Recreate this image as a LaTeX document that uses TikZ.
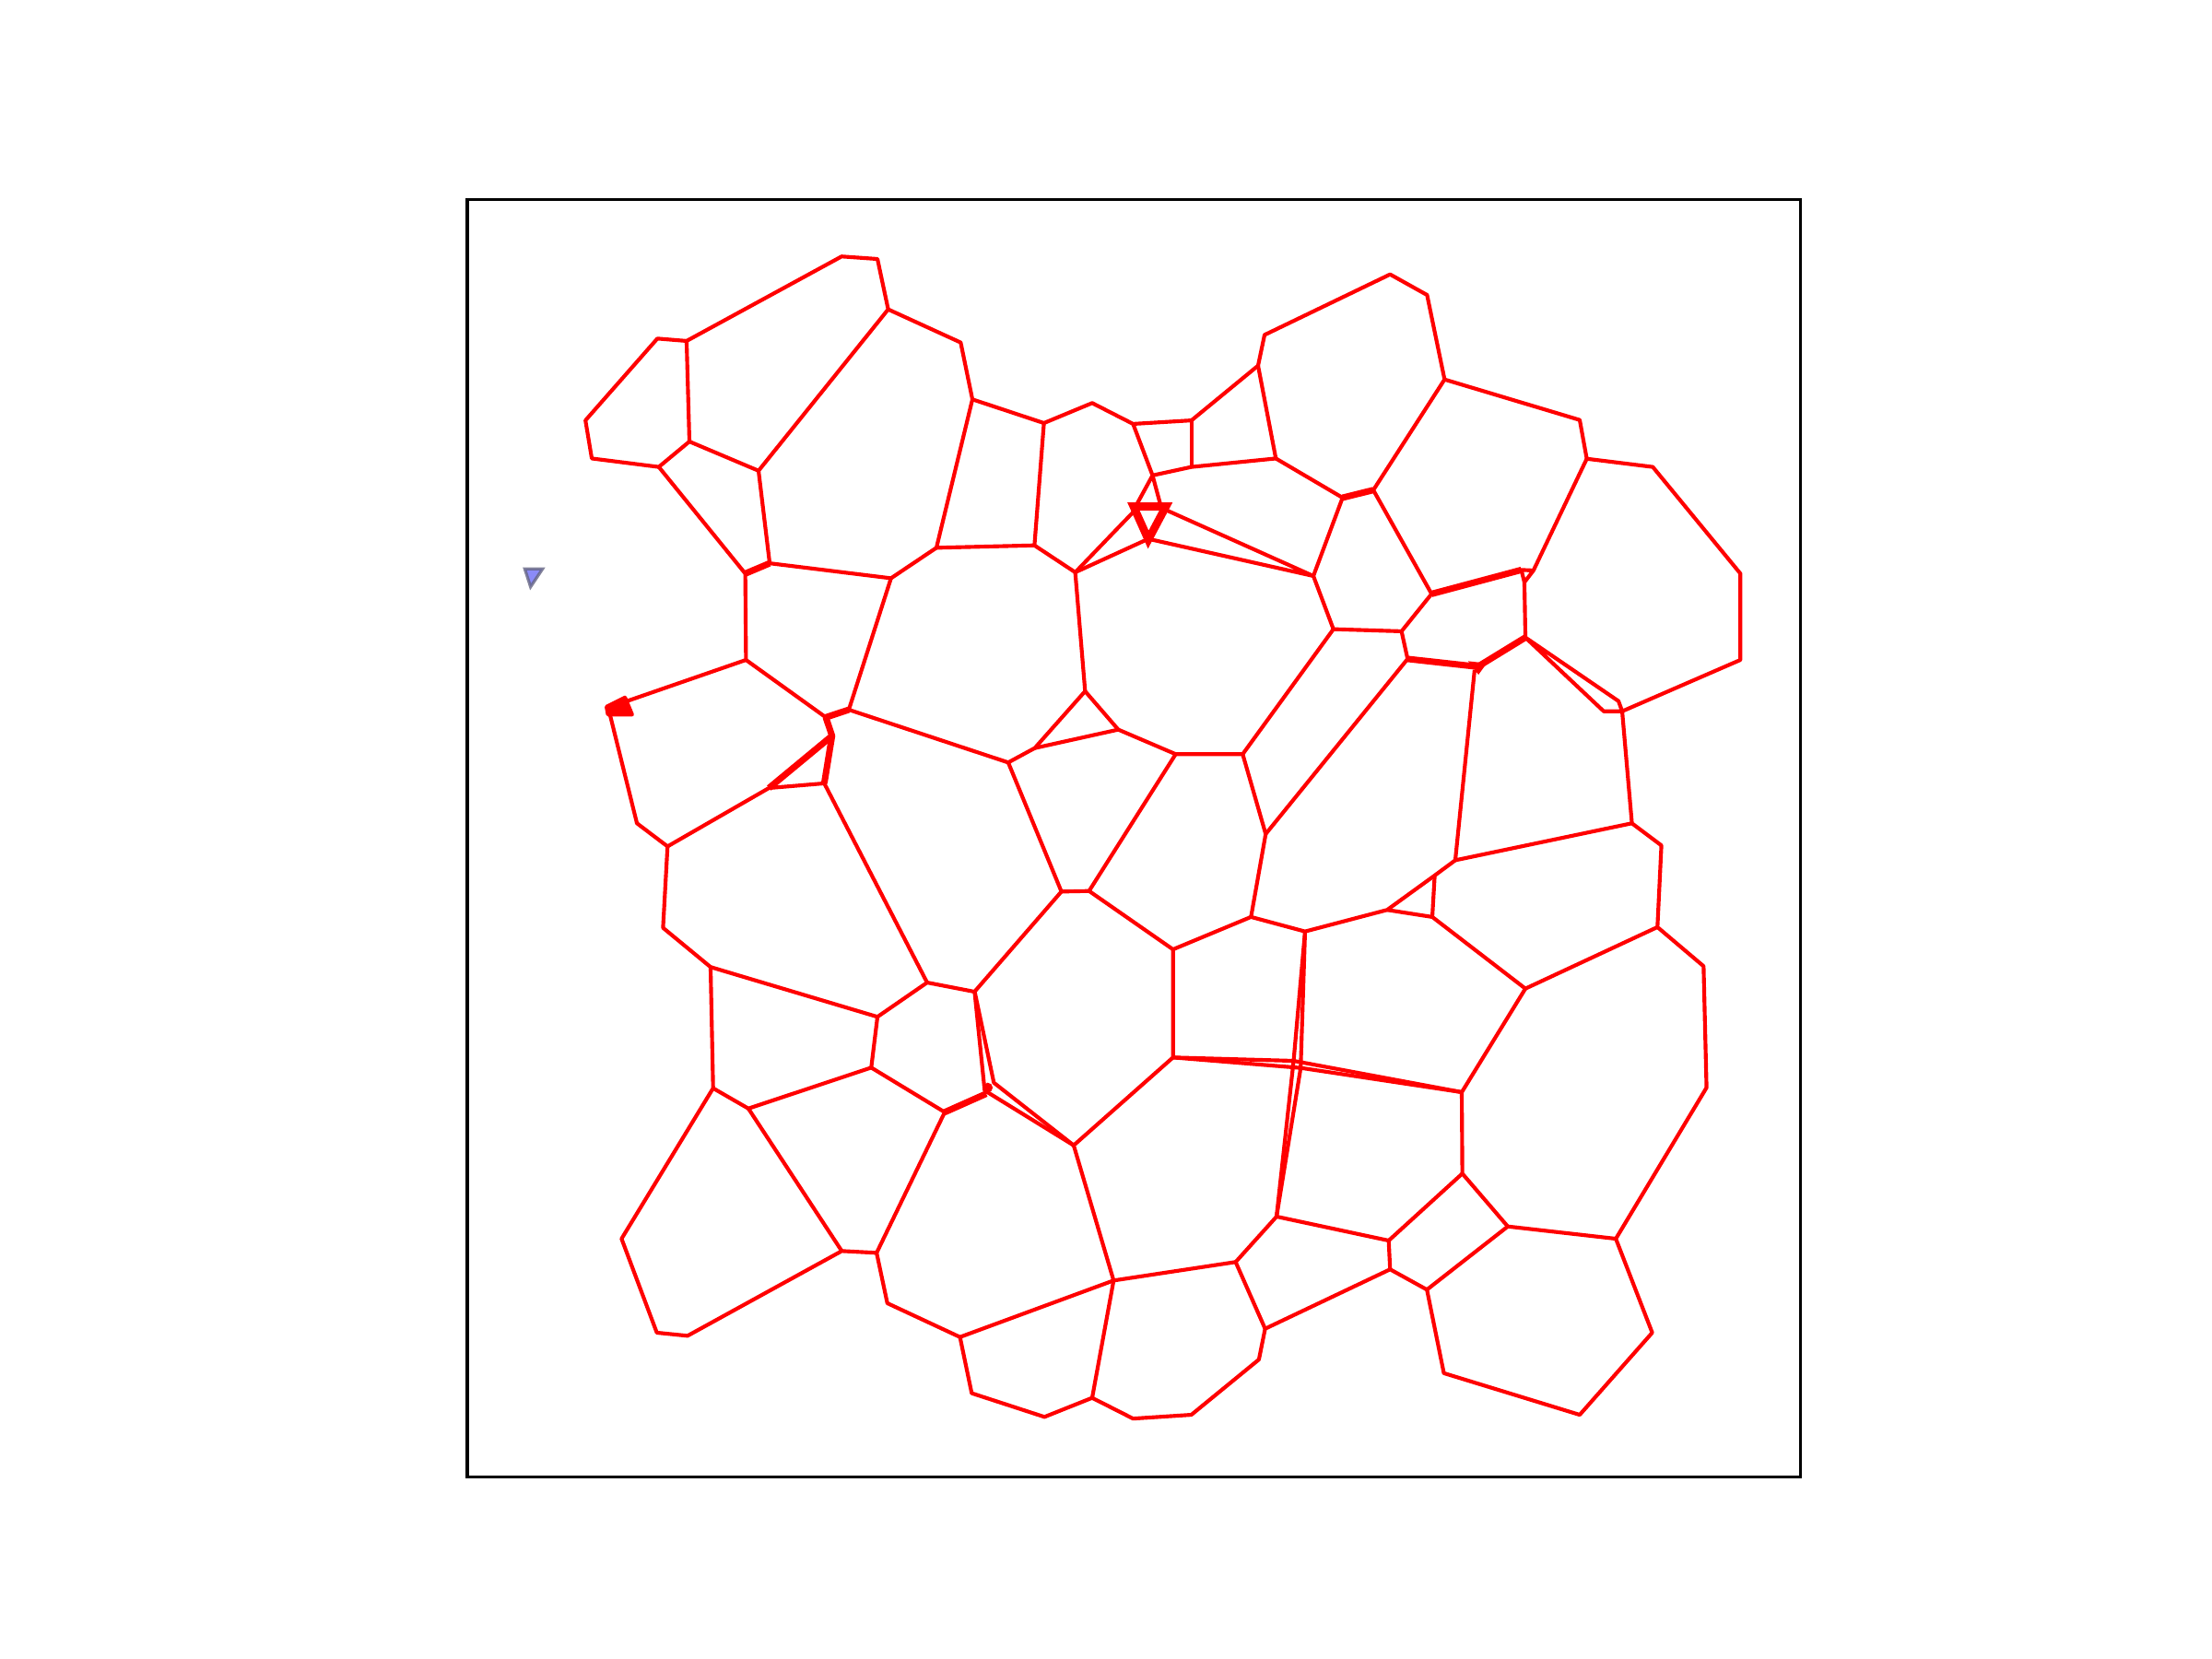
\documentclass[tikz,border=0pt]{standalone}
\usepackage{tikz}
\tikzset{
 cell/.style={red, line width=0.77pt, line join=round},
 seam/.style={red, line width=1.3pt, line join=round},
}
\begin{document}
\begin{tikzpicture}[x=0.01cm, y=-0.01cm]
 \useasboundingbox (0,0) rectangle (1568,1176);
 \draw[line width=0.62pt] (331.2,141.6) rectangle (1276.2,1047.1);
 % outer rim of the cells
 \draw[cell] (466,240) -- (486.7,241.7) -- (488.7,313) -- (467,331) -- (419.5,325) -- (415,298) -- cycle;
 \draw[cell] (486.7,241.7) -- (596.6,181.8) -- (622,183.6) -- (629.6,219.3) -- (537.7,333.7) -- (488.7,313);
 \draw[cell] (629.6,219.3) -- (681,242.8) -- (689.3,283.1) -- (740,299.9) -- (774.2,285.7) -- (803.2,300.5) -- (844.6,298) -- (891.8,259.2) -- (896.4,237.4) -- (985.4,194.5) -- (1011.6,209.1) -- (1024,269) -- (1119.8,297.7) -- (1124.8,325.2) -- (1171.6,331) -- (1233.7,406.6) -- (1233.7,467.8) -- (1149.9,504.2) -- (1156.8,583.6) -- (1177.7,599.3) -- (1174.9,657.2) -- (1207.6,684.9) -- (1209.7,771) -- (1145.4,878.1) -- (1171.2,944.7) -- (1119.8,1002.9) -- (1023.5,973.4) -- (1011.5,914.2) -- (985.4,899.8) -- (896.8,941.9) -- (892.4,963.7) -- (844.5,1002.9) -- (803.2,1005.6) -- (774.2,990.9) -- (740.4,1004.4) -- (688.8,987.6) -- (680.5,947.8) -- (629,923.8) -- (621.4,888.1) -- (596.7,886.8) -- (487.4,946.9) -- (465.6,944.7) -- (440.6,878.1) -- (505.5,771.4) -- (503.7,685.5) -- (470,657.7) -- (473.2,600) -- (451.5,583.6) -- (431.8,504.2);
 % inner edges, upper half
 \draw[cell] (467,331) -- (528.3,406.6) -- (528.8,467.8) -- (442.7,497.6);
 \draw[cell] (537.7,333.7) -- (545.6,399.3) -- (631.6,409.9) -- (663.8,388.3) -- (689.3,283.1);
 \draw[seam] (528.3,406.6) -- (545.6,399.3);
 \draw[cell] (631.6,409.9) -- (601.7,503.1) -- (714.7,540.5) -- (733.5,530.3) -- (769.2,490) -- (762.2,405.7) -- (733.3,386.6) -- (740,299.9);
 \draw[cell] (663.8,388.3) -- (733.3,386.6);
 \draw[cell] (803.2,300.5) -- (817,337) -- (844.6,331) -- (904.4,325) -- (891.8,259.2);
 \draw[cell] (844.6,298) -- (844.6,331);
 \draw[cell] (904.4,325) -- (951.7,352.8) -- (931,408.3) -- (945.2,446) -- (993.5,447.5) -- (1014.8,421) -- (973.5,347.4) -- (1024,269);
 \draw[seam] (951.7,352.8) -- (973.5,347.4);
 \draw[seam] (1014.8,421) -- (1078.4,404);
 \draw[cell] (1078.4,404) -- (1087,404.4) -- (1080.6,412.7) -- cycle;
 \draw[cell] (1087,404.4) -- (1124.8,325.2);
 \draw[cell] (1080.6,412.7) -- (1081.3,451.9);
 \draw[cell] (993.5,447.5) -- (997.8,467.1);
 \draw[seam] (997.8,467.1) -- (1047.5,472.6) -- (1081.3,451.9);
 \draw[cell] (1081.3,451.9) -- (1147.3,497) -- (1149.9,504.2) -- (1136.8,504.2) -- cycle;
 \draw[cell] (1045.3,474.8) -- (1031.6,609.8) -- (1156.8,583.6);
 % the small triangle in the middle
 \draw[cell] (762.2,405.7) -- (805.8,360.4);
 \draw[cell] (762.2,405.7) -- (814,382);
 \draw[cell] (805,359) -- (817,337) -- (822.8,358.5);
 \draw[cell] (826.5,361.5) -- (931,408.3) -- (814,382);
 \draw[red, line width=1.6pt, line join=miter] (803.5,359) -- (826.5,359) -- (814,382.5) -- cycle;
 % left junction
 \draw[cell] (528.8,467.8) -- (585.4,508.5);
 \draw[seam] (585.4,508.5) -- (601.7,503.1);
 \draw[seam] (585.4,508.5) -- (589.8,521.6) -- (545.1,558.6);
 \draw[seam] (589.8,521.6) -- (584.3,555.3);
 \filldraw[red, line width=0.8pt, line join=round] (430,501) -- (443,494.5) -- (448,506.5) -- (431,506.5) -- cycle;
 % inner edges, middle
 \draw[cell] (769.2,490) -- (792.7,517.2) -- (833.4,534.6) -- (880.9,534.6) -- (945.2,446);
 \draw[cell] (792.7,517.2) -- (733.5,530.3);
 \draw[cell] (880.9,534.6) -- (897.2,591.2) -- (886.8,650);
 \draw[cell] (897.2,591.2) -- (997.8,467.1);
 \draw[cell] (833.4,534.6) -- (772,631.6);
 \draw[cell] (714.7,540.5) -- (752.4,632) -- (772,631.6) -- (831.5,673) -- (886.8,650) -- (925.1,660.3) -- (983.3,645) -- (1017,620.6) -- (1031.6,609.8);
 \draw[cell] (1017,620.6) -- (1015.3,650) -- (983.3,645);
 \draw[cell] (1015.3,650) -- (1081.3,700.8) -- (1174.9,657.2);
 \draw[cell] (752.4,632) -- (690.8,703) -- (657.2,696.5) -- (622,720.8) -- (503.7,685.5);
 \draw[cell] (657.2,696.5) -- (584.3,555.3) -- (545.1,558.6) -- (473.2,600);
 \filldraw[red, line width=0.6pt] (1043,470) -- (1052,471) -- (1048,476.5) -- cycle;
 % inner edges, lower half
 \draw[cell] (622,720.8) -- (617.6,756.8) -- (530.5,785.8) -- (505.5,771.4);
 \draw[cell] (530.5,785.8) -- (596.7,886.8);
 \draw[cell] (617.6,756.8) -- (669.7,788.4) -- (621.4,888.1);
 \draw[seam] (669.7,788.4) -- (699.1,775.3);
 \draw[cell] (690.8,702.3) -- (698,773) -- (761.1,811.9);
 \draw[cell] (690.8,702.3) -- (704.5,767.5) -- (761.1,811.9);
 \fill[red] (700.2,771) circle (3.5);
 \draw[cell] (831.5,673) -- (831.5,749.6) -- (761.1,811.9) -- (789.4,907.7) -- (774.2,990.9);
 \draw[cell] (789.4,907.7) -- (680.5,947.8);
 \draw[cell] (789.4,907.7) -- (875.9,894.6) -- (896.8,941.9);
 \draw[cell] (875.9,894.6) -- (904.9,862.4) -- (984.4,879.4) -- (985.4,899.8);
 \draw[cell] (831.5,749.6) -- (917,752) -- (1036.2,774.2);
 \draw[cell] (831.5,749.6) -- (922,757) -- (1036.2,774.2);
 \draw[cell] (925.1,660.3) -- (917,752) -- (904.9,862.4);
 \draw[cell] (925.1,660.3) -- (922,757) -- (904.9,862.4);
 \draw[cell] (1081.3,700.8) -- (1036.2,774.2) -- (1036.6,831.9) -- (1068.8,869.4) -- (1145.4,878.1);
 \draw[cell] (1068.8,869.4) -- (1011.5,914.2);
 \draw[cell] (1036.6,831.9) -- (984.4,879.4);
 % blue marker
 \filldraw[fill={rgb,255:red,110;green,110;blue,245}, draw={rgb,255:red,100;green,100;blue,130}, line width=0.6pt, opacity=0.8] (372,403.3) -- (384.6,403.3) -- (376.1,416) -- cycle;
\end{tikzpicture}
\end{document}
